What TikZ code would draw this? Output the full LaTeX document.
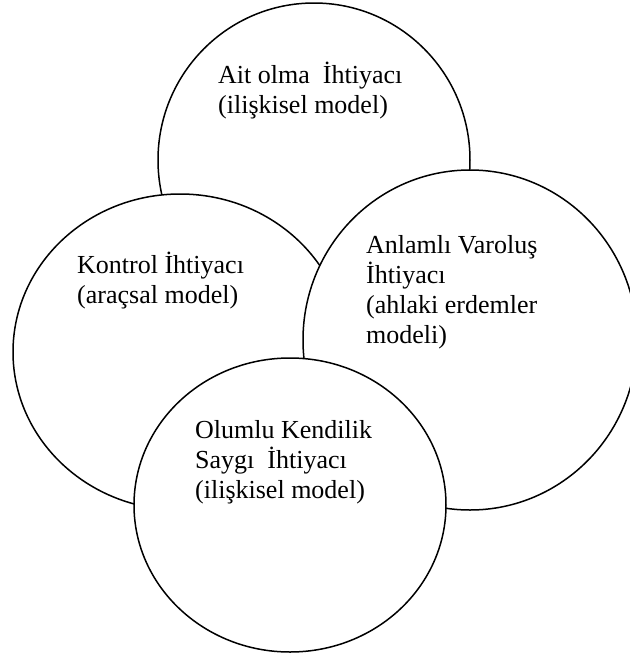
\documentclass[tikz,border=0pt]{standalone}
\usepackage{fontspec}
\setmainfont{Liberation Serif}
\begin{document}
\begin{tikzpicture}[x=1pt,y=-1pt,
  bubble/.style={draw=black,line width=1.5pt,fill=white},
  label/.style={anchor=base west,inner sep=0pt,align=left,font=\fontsize{26}{30}\selectfont}]
\useasboundingbox (0,0) rectangle (630,657);
\draw[bubble] (314,160) ellipse [x radius=156pt, y radius=157pt];
\draw[bubble] (180,352) ellipse [x radius=167pt, y radius=158pt];
\draw[bubble] (470,340) ellipse [x radius=167pt, y radius=170pt];
\draw[bubble] (290,505) ellipse [x radius=156pt, y radius=147pt];
\node[label] (ait) at (218,113) {Ait olma\ \ İhtiyacı\\(ilişkisel model)};
\node[label] (kontrol) at (77,303) {Kontrol İhtiyacı\\(araçsal model)};
\node[label] (anlam) at (366,343) {Anlamlı Varoluş\\İhtiyacı\\(ahlaki erdemler\\modeli)};
\node[label] (olumlu) at (195,498) {Olumlu Kendilik\\Saygı\ \ İhtiyacı\\(ilişkisel model)};
\end{tikzpicture}
\end{document}
